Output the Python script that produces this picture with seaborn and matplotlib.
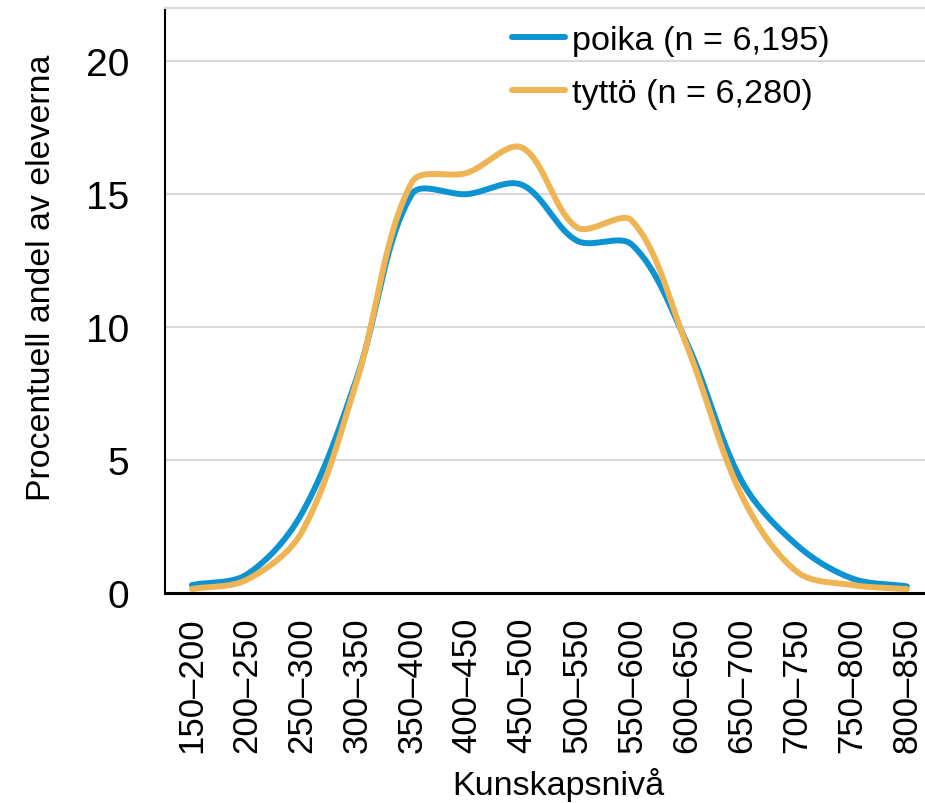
import numpy as np
import pandas as pd
import matplotlib
matplotlib.use("Agg")
import matplotlib.pyplot as plt
import seaborn as sns

# ---- data ----
categories = ["150–200", "200–250", "250–300", "300–350", "350–400", "400–450",
              "450–500", "500–550", "550–600", "600–650", "650–700", "700–750",
              "750–800", "800–850"]
poika = [0.3, 0.7, 3.0, 8.1, 15.0, 15.0, 15.35, 13.25, 13.1, 9.4, 4.2, 1.8, 0.55, 0.25]
tytto = [0.15, 0.5, 2.3, 8.0, 15.45, 15.8, 16.75, 13.75, 14.0, 9.3, 3.65, 0.8, 0.3, 0.15]
series_names = ["poika (n = 6,195)", "tyttö (n = 6,280)"]
y_ticks = [0, 5, 10, 15, 20]
x_title = "Kunskapsnivå"
y_title = "Procentuell andel av eleverna"

colors = ["#0e93d2", "#efb454"]

# pixel scale of the plot (used only for the smoothing shape)
SX, SY = 55.0, 26.6


def smooth(xs, ys, n=40):
    """Excel-like smoothed line through the points (chord-weighted Bezier)."""
    P = np.column_stack([np.asarray(xs, float) * SX, np.asarray(ys, float) * SY])
    out = []
    m = len(P)

    def d(a, b):
        return np.hypot(*(a - b)) + 1e-9

    for i in range(m - 1):
        p0 = P[i - 1] if i > 0 else P[i]
        p1, p2 = P[i], P[i + 1]
        p3 = P[i + 2] if i + 2 < m else P[i + 1]
        d01, d12, d23 = d(p0, p1), d(p1, p2), d(p2, p3)
        c1 = p1 + (p2 - p0) * d12 / (3.0 * (d01 + d12))
        c2 = p2 - (p3 - p1) * d12 / (3.0 * (d12 + d23))
        t = np.linspace(0, 1, n, endpoint=(i == m - 2))[:, None]
        seg = ((1 - t) ** 3) * p1 + 3 * ((1 - t) ** 2) * t * c1 + 3 * (1 - t) * t ** 2 * c2 + t ** 3 * p2
        out.append(seg)
    out = np.vstack(out)
    return out[:, 0] / SX, out[:, 1] / SY


sns.set_theme(style="white")
plt.rcParams["font.family"] = ["Liberation Sans", "DejaVu Sans"]

fig = plt.figure(figsize=(9.25, 8.04), dpi=100)
ax = fig.add_axes([165 / 925, 1 - 594 / 804, 1 - 165 / 925, (594 - 9) / 804])

xpos = np.arange(len(categories))
frames = []
for name, vals in zip(series_names, [poika, tytto]):
    sx, sy = smooth(xpos, vals)
    frames.append(pd.DataFrame({"x": sx, "y": sy, "serie": name}))
df = pd.concat(frames, ignore_index=True)

sns.lineplot(data=df, x="x", y="y", hue="serie", palette=colors, sort=False,
             estimator=None, linewidth=4.3, ax=ax, legend=True)
for ln in ax.get_lines():
    ln.set_solid_capstyle("round")

ax.set_xlim(-0.49, 13.33)
ax.set_ylim(0, 22)
ax.set_yticks(y_ticks)
ax.set_yticklabels([str(v) for v in y_ticks])
ax.set_xticks(xpos)
ax.set_xticklabels(categories, rotation=90)
ax.tick_params(axis="y", length=0, pad=26, labelsize=28, colors="black")
ax.tick_params(axis="x", length=0, pad=17, labelsize=25, colors="black")
ax.yaxis.grid(True, color="#d9d9d9", linewidth=1.5)
ax.xaxis.grid(False)
ax.set_axisbelow(True)

for s in ["left", "bottom"]:
    ax.spines[s].set_color("black")
ax.spines["left"].set_linewidth(1.5)
ax.spines["bottom"].set_linewidth(2.2)
ax.spines["bottom"].set_zorder(3)
ax.spines["top"].set_color("#d9d9d9")
ax.spines["top"].set_linewidth(1.5)
ax.spines["right"].set_visible(False)

ax.set_xlabel(x_title, fontsize=24.6, color="black")
ax.set_ylabel(y_title, fontsize=24.4, color="black")
ax.xaxis.set_label_coords(0.517, -0.297)
ax.yaxis.set_label_coords(-0.142, 0.54)

leg = ax.legend(loc="upper left", bbox_to_anchor=(512 / 925, 1 - 26 / 804),
                bbox_transform=fig.transFigure, frameon=False, fontsize=24.7,
                handlelength=1.55, handletextpad=0.2, labelspacing=0.65,
                borderpad=0, borderaxespad=0)
for h in leg.get_lines():
    h.set_linewidth(4.3)
    h.set_solid_capstyle("round")
for t in leg.get_texts():
    t.set_color("black")

fig.savefig("out.png", dpi=100)
